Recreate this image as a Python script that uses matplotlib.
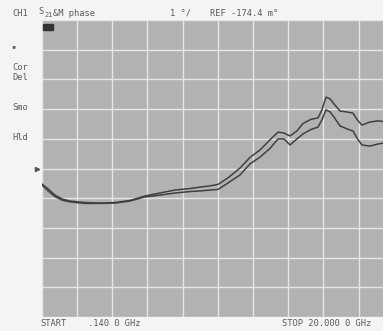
import numpy as np
import matplotlib
matplotlib.use('Agg')
import matplotlib.pyplot as plt
from matplotlib.patches import Rectangle
from matplotlib.transforms import blended_transform_factory

# Sweep settings
start_ghz = 0.14
stop_ghz = 20.0
deg_per_div = 1.0
ref_deg = -0.1744  # REF -174.4 m deg, at the centre line

# Frequency points (GHz) and the two phase traces (degrees)
freq = [0.16, 0.50, 0.89, 1.29, 1.74, 2.58, 3.43, 4.28, 5.12, 5.97,
        6.81, 7.66, 8.51, 9.07, 9.64, 10.09, 10.65, 11.33, 11.89, 12.46,
        13.02, 13.47, 13.81, 14.15, 14.54, 14.88, 15.33, 15.73, 15.95, 16.18,
        16.41, 16.63, 16.97, 17.36, 17.70, 17.99, 18.21, 18.66, 19.11, 19.40]
phase_upper = [-0.70, -0.86, -1.07, -1.20, -1.27, -1.32, -1.34, -1.32, -1.25, -1.10,
               -1.00, -0.90, -0.85, -0.80, -0.76, -0.71, -0.49, -0.16, 0.20, 0.45,
               0.79, 1.05, 1.02, 0.92, 1.09, 1.34, 1.48, 1.53, 1.80, 2.23,
               2.17, 2.00, 1.76, 1.73, 1.69, 1.43, 1.29, 1.39, 1.43, 1.41]
phase_lower = [-0.73, -0.93, -1.12, -1.24, -1.30, -1.35, -1.35, -1.34, -1.27, -1.13,
               -1.07, -1.00, -0.95, -0.93, -0.90, -0.88, -0.66, -0.39, -0.02, 0.21,
               0.50, 0.82, 0.82, 0.62, 0.82, 0.99, 1.14, 1.22, 1.46, 1.80,
               1.73, 1.56, 1.26, 1.16, 1.09, 0.79, 0.62, 0.58, 0.65, 0.68]

W, H = 383, 331
fig = plt.figure(figsize=(W / 100, H / 100), dpi=100, facecolor='#f4f4f4')

# plot area runs past the right edge of the picture (screen was cropped)
ax = fig.add_axes([41.7 / W, 14 / H, 352 / W, 297 / H])
ax.set_facecolor('#b2b2b2')
ax.set_xlim(start_ghz, stop_ghz)
ax.set_ylim(ref_deg - 5 * deg_per_div, ref_deg + 5 * deg_per_div)
ax.set_xticks(np.linspace(start_ghz, stop_ghz, 11))
ax.set_yticks(np.linspace(ref_deg - 5 * deg_per_div, ref_deg + 5 * deg_per_div, 11))
ax.tick_params(length=0, labelbottom=False, labelleft=False)
ax.grid(True, color='#e6e6e6', lw=1.0)
ax.set_axisbelow(True)
for s in ax.spines.values():
    s.set_visible(False)

ax.plot(freq, phase_upper, color='#404040', lw=1.1)
ax.plot(freq, phase_lower, color='#404040', lw=1.1)

# reference position marker
tr = blended_transform_factory(ax.transAxes, ax.transData)
ax.plot([-0.012], [ref_deg], transform=tr, marker='>', ms=3,
        color='#555555', clip_on=False)

# small dark tag in the top-left corner of the grid
fig.patches.append(Rectangle((43 / W, 1 - 29.5 / H), 10 / W, 5.5 / H,
                             transform=fig.transFigure, color='#333333'))

font = dict(family='DejaVu Sans Mono', fontsize=6.3, color='#5a5a5a', va='center')


def px_text(x, y, s, **kw):
    opts = dict(font)
    opts.update(kw)
    fig.text(x / W, 1 - y / H, s, **opts)


# header line
px_text(12, 13, 'CH1')
px_text(38, 12, 'S')
px_text(44, 15, '21', fontsize=5)
px_text(53, 13, '&M phase')
px_text(170, 13, '1 \u00b0/')
px_text(210, 13, 'REF -174.4 m\u00b0')

# softkey annotations on the left
px_text(11, 46, '\u25aa', fontsize=5)
px_text(12, 67, 'Cor')
px_text(12, 78, 'Del')
px_text(12, 107, 'Smo')
px_text(12, 137, 'Hld')

# footer
px_text(40, 323, 'START')
px_text(88, 323, '.140 0 GHz')
px_text(282, 323, 'STOP 20.000 0 GHz')

fig.savefig('out.png', dpi=100, facecolor=fig.get_facecolor())
